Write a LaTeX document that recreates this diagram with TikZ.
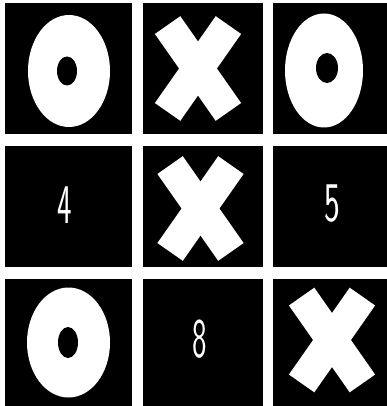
\documentclass[tikz,border=0pt]{standalone}
\tikzset{
  cell/.style={fill=black, draw=none, inner sep=0pt, outer sep=0pt},
  digit/.style={text=white, inner sep=0pt, font=\sffamily\fontsize{56}{56}\selectfont},
  ring/.style={fill=white},
  hole/.style={fill=black},
  cross/.pic={
    \fill[white, rotate=55] (-53,-15.5) rectangle (53,15.5);
    \fill[white, rotate=-55] (-53,-15.5) rectangle (53,15.5);
  }
}
\begin{document}
\begin{tikzpicture}[x=1pt, y=-1pt]
\useasboundingbox[fill=white] (0,0) rectangle (387,406);
% cells
\node[cell, minimum width=127pt, minimum height=131pt] (c11) at (68.5,68.5) {};
\node[cell, minimum width=120pt, minimum height=131pt] (c12) at (203,68.5) {};
\node[cell, minimum width=114pt, minimum height=131pt] (c13) at (330,68.5) {};
\node[cell, minimum width=127pt, minimum height=121pt] (c21) at (68.5,206.5) {};
\node[cell, minimum width=120pt, minimum height=121pt] (c22) at (203,206.5) {};
\node[cell, minimum width=114pt, minimum height=121pt] (c23) at (330,206.5) {};
\node[cell, minimum width=127pt, minimum height=127pt] (c31) at (68.5,342.5) {};
\node[cell, minimum width=120pt, minimum height=127pt] (c32) at (203,342.5) {};
\node[cell, minimum width=114pt, minimum height=127pt] (c33) at (330,342.5) {};
% O marks
\fill[ring] (69,71) ellipse [x radius=41, y radius=56];
\fill[hole] (67,71) ellipse [x radius=10, y radius=14.5];
\fill[ring] (324,70.5) ellipse [x radius=39, y radius=57];
\fill[hole] (327,68) ellipse [x radius=11, y radius=15];
\fill[ring] (68.5,342.5) ellipse [x radius=41.5, y radius=55];
\fill[hole] (68,342.5) ellipse [x radius=10, y radius=15.5];
% X marks
\pic at (198,68.5) {cross};
\pic at (200.5,208.5) {cross};
\pic at (332,340) {cross};
% digits
\node[digit] (n4) at (64.5,205) {\scalebox{0.55}[1]{4}};
\node[digit] (n5) at (332,204) {\scalebox{0.6}[1]{5}};
\node[digit] (n8) at (200,339.5) {\scalebox{0.55}[1]{8}};
\end{tikzpicture}
\end{document}
